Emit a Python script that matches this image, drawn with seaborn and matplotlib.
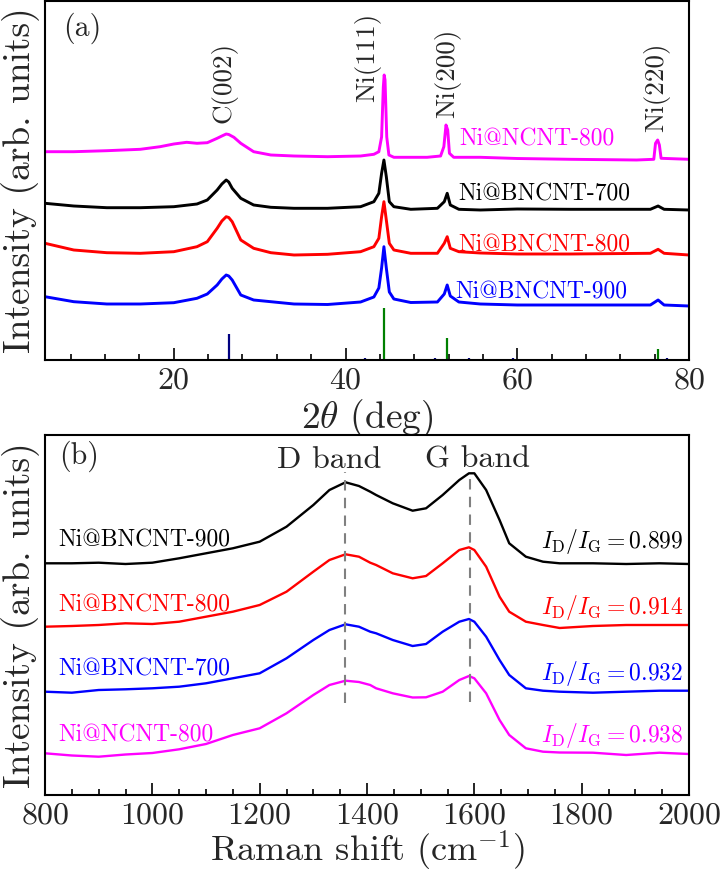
import matplotlib
matplotlib.use('Agg')
import matplotlib.pyplot as plt
import seaborn as sns
from matplotlib.ticker import MultipleLocator

# ---------------- (a) XRD data (intensity in arb. units) ----------------
xrd_ncnt800_x = [5.0, 8.35, 12.2, 16.1, 18.4, 20.0, 21.5, 22.7, 23.9, 25.05, 25.6, 26.1, 26.4, 27.0, 27.8,
                 29.3, 31.3, 34.0, 37.9, 41.75, 43.3, 43.88, 44.2, 44.4, 44.5, 44.6, 44.8, 45.05, 45.63,
                 49.5, 51.07, 51.45, 51.7, 51.9, 52.1, 52.6, 55.7, 60.0, 66.2, 73.9, 75.9, 76.1, 76.35,
                 76.55, 76.75, 80.0]
xrd_ncnt800_y = [208.3, 208.3, 209.3, 210.7, 213.3, 216.0, 217.7, 216.7, 217.3, 221.7, 224.0, 226.0, 225.5,
                 222.7, 216.7, 208.3, 205.0, 204.0, 203.3, 204.0, 205.7, 208.3, 223.0, 273.0, 285.0, 280.0,
                 223.0, 205.0, 202.7, 202.7, 204.0, 213.3, 235.0, 230.0, 206.7, 202.7, 202.7, 201.5, 200.7,
                 200.0, 200.7, 216.7, 220.0, 215.0, 201.7, 200.7]

xrd_bn_x = [5.0, 8.35, 12.2, 16.1, 20.0, 22.7, 23.9, 25.05, 25.6, 26.1, 26.4, 26.8, 27.8, 29.3, 31.3, 34.0,
            37.9, 41.75, 43.3, 43.88, 44.2, 44.47, 44.75, 45.1, 45.63, 47.6, 50.7, 51.5, 51.84, 52.2,
            53.2, 55.7, 60.0, 66.2, 75.5, 76.4, 77.1, 80.0]
xrd_bn700_y = [156.7, 154.0, 152.3, 152.3, 153.3, 156.0, 160.0, 170.0, 176.0, 180.0, 178.0, 171.7, 161.7,
               155.0, 152.7, 151.7, 151.7, 153.3, 158.3, 166.7, 186.7, 200.0, 183.3, 158.3, 153.3, 150.7,
               151.7, 158.3, 166.7, 155.0, 150.7, 150.0, 151.0, 150.7, 150.7, 154.0, 150.7, 150.0]
xrd_bn800_y = [116.7, 110.0, 107.3, 106.7, 108.3, 113.3, 118.3, 131.7, 139.0, 143.3, 142.5, 138.3, 120.0,
               111.7, 107.3, 105.0, 105.7, 108.3, 113.3, 121.7, 143.3, 158.3, 140.0, 116.7, 110.0, 106.7,
               106.7, 116.7, 123.3, 111.7, 108.3, 107.0, 106.0, 106.0, 106.7, 110.7, 106.7, 105.0]
xrd_bn900_y = [63.3, 58.3, 56.0, 56.0, 57.3, 61.7, 66.0, 75.0, 81.0, 85.0, 84.0, 80.0, 65.0, 60.0, 58.3,
               56.0, 55.5, 58.0, 63.0, 72.0, 92.0, 113.3, 92.0, 68.0, 61.0, 57.5, 58.0, 66.0, 75.0, 64.0,
               58.0, 56.0, 55.0, 55.0, 55.0, 60.0, 55.0, 54.0]

# reference stick patterns
carbon_pos = [26.4, 42.3, 50.4, 54.4, 59.5, 77.4]
carbon_h = [25.7, 2.0, 2.0, 2.0, 2.0, 2.5]
nickel_pos = [44.5, 51.8, 76.4]
nickel_h = [51.7, 21.7, 11.0]

xrd_names = ['Ni@NCNT-800', 'Ni@BNCNT-700', 'Ni@BNCNT-800', 'Ni@BNCNT-900']
xrd_colors = ['#ff00ff', 'black', '#ff0000', '#0000ff']
xrd_label_xy = [(53.3, 221), (53.1, 166), (53.1, 115), (52.8, 68)]

peak_names = ['C(002)', 'Ni(111)', 'Ni(200)', 'Ni(220)']
peak_xy = [(25.9, 278), (42.6, 303), (51.9, 287), (76.2, 273)]

# ---------------- (b) Raman data ----------------
raman_x = [800, 850, 900, 950, 1000, 1050, 1100, 1150, 1200, 1250, 1300, 1330, 1360, 1385, 1406, 1417,
           1448, 1485, 1510, 1541, 1572, 1590, 1600, 1622, 1647, 1665, 1696, 1728, 1759, 1821, 1883,
           1945, 2000]
raman_bn900 = [231.7, 231.7, 232.3, 231.0, 232.3, 236.7, 241.7, 246.7, 253.3, 268.3, 290.0, 305.0, 312.7,
               309.0, 303.3, 300.0, 291.7, 284.3, 286.7, 300.0, 315.0, 321.7, 321.7, 305.0, 275.0, 251.7,
               238.3, 233.3, 231.7, 231.7, 231.0, 231.7, 231.0]
raman_bn800 = [168.3, 169.0, 170.0, 171.7, 171.0, 173.3, 178.3, 183.3, 190.0, 203.3, 223.3, 235.0, 240.7,
               238.3, 232.3, 230.0, 221.7, 216.7, 219.0, 231.7, 245.0, 247.7, 245.0, 228.3, 198.3, 183.3,
               173.3, 170.0, 167.0, 169.0, 170.0, 170.0, 170.0]
raman_bn700 = [103.3, 102.3, 105.0, 105.7, 106.7, 108.3, 111.7, 116.7, 121.7, 136.7, 155.0, 165.0, 170.7,
               168.3, 163.3, 161.7, 155.0, 149.0, 151.0, 163.3, 173.3, 176.0, 173.3, 158.3, 135.0, 120.0,
               106.7, 104.3, 103.3, 102.3, 103.3, 104.3, 104.3]
raman_ncnt800 = [41.7, 39.5, 38.3, 40.5, 42.0, 45.7, 51.0, 60.0, 66.7, 81.7, 100.0, 110.0, 114.3, 113.0,
                 110.0, 106.7, 101.7, 97.5, 97.7, 103.3, 115.0, 119.0, 116.7, 101.7, 75.0, 60.0, 46.7,
                 43.3, 42.5, 42.3, 40.0, 42.3, 41.0]

raman_names = ['Ni@BNCNT-900', 'Ni@BNCNT-800', 'Ni@BNCNT-700', 'Ni@NCNT-800']
raman_colors = ['black', '#ff0000', '#0000ff', '#ff00ff']
raman_label_y = [255, 190, 126, 60]
ratio_values = ['0.899', '0.914', '0.932', '0.938']
ratio_y = [253, 187, 122, 59]
band_pos = [1359, 1591]

sns.set_style('ticks')
plt.rcParams['font.family'] = 'cmr10'
plt.rcParams['mathtext.fontset'] = 'cm'
plt.rcParams['axes.unicode_minus'] = False
plt.rcParams['axes.formatter.use_mathtext'] = True

fig = plt.figure(figsize=(7.25, 8.76), dpi=100)
ax1 = fig.add_axes([45 / 725, 1 - 360 / 876, 644 / 725, 359 / 876])
ax2 = fig.add_axes([45 / 725, 1 - 795 / 876, 644 / 725, 360 / 876])

# (a)
xrd_curves = [(xrd_ncnt800_x, xrd_ncnt800_y), (xrd_bn_x, xrd_bn700_y),
              (xrd_bn_x, xrd_bn800_y), (xrd_bn_x, xrd_bn900_y)]
for (xs, ys), c in zip(xrd_curves, xrd_colors):
    sns.lineplot(x=xs, y=ys, ax=ax1, color=c, lw=2.1, estimator=None)
ax1.vlines(carbon_pos, 0, carbon_h, color='#000080', lw=1.6)
ax1.vlines(nickel_pos, 0, nickel_h, color='#008000', lw=1.6)
for name, c, (lx, ly) in zip(xrd_names, xrd_colors, xrd_label_xy):
    ax1.text(lx, ly, name, color=c, fontsize=17, ha='left', va='center')
for name, (px, py) in zip(peak_names, peak_xy):
    ax1.text(px, py, name, rotation=90, ha='center', va='center', fontsize=19.5)
ax1.text(0.028, 0.925, '(a)', transform=ax1.transAxes, fontsize=21.5, va='center')
ax1.set_xlim(5, 80)
ax1.set_ylim(0, 359)
ax1.xaxis.set_major_locator(MultipleLocator(20))
ax1.xaxis.set_minor_locator(MultipleLocator(4))
ax1.set_xlabel(r'$2\theta$ (deg)', fontsize=27, labelpad=2)

# (b)
raman_curves = [raman_bn900, raman_bn800, raman_bn700, raman_ncnt800]
for ys, c in zip(raman_curves, raman_colors):
    sns.lineplot(x=raman_x, y=ys, ax=ax2, color=c, lw=1.7, estimator=None)
ax2.vlines(band_pos, [92, 93], [323, 322], color='gray', lw=1.5, linestyles=(0, (5, 3.5)))
for name, c, ly in zip(raman_names, raman_colors, raman_label_y):
    ax2.text(825, ly, name, color=c, fontsize=17, ha='left', va='center')
for val, c, ry in zip(ratio_values, raman_colors, ratio_y):
    ax2.text(1990, ry, r'$I_\mathrm{D}/I_\mathrm{G}=' + val + '$', color=c, fontsize=17,
             ha='right', va='center')
ax2.text(1329, 335, 'D band', fontsize=23, ha='center', va='center')
ax2.text(1605, 335, 'G band', fontsize=23, ha='center', va='center')
ax2.text(0.022, 0.94, '(b)', transform=ax2.transAxes, fontsize=21.5, va='center')
ax2.set_xlim(800, 2000)
ax2.set_ylim(0, 360)
ax2.xaxis.set_major_locator(MultipleLocator(200))
ax2.xaxis.set_minor_locator(MultipleLocator(50))
ax2.set_xlabel(r'Raman shift (cm$^{-1}$)', fontsize=26, labelpad=0)

for ax in (ax1, ax2):
    ax.set_yticks([])
    ax.set_ylabel('Intensity (arb. units)', fontsize=27)
    ax.yaxis.set_label_coords(-0.008, 0.5)
    ax.tick_params(axis='x', which='both', direction='in', bottom=True, top=False,
                   labelsize=23, pad=5, width=1.2, color='black')
    ax.tick_params(axis='x', which='major', length=8.5)
    ax.tick_params(axis='x', which='minor', length=4.5)
    for s in ax.spines.values():
        s.set_visible(True)
        s.set_linewidth(1.5)
        s.set_color('black')

fig.savefig('out.png', dpi=100)
